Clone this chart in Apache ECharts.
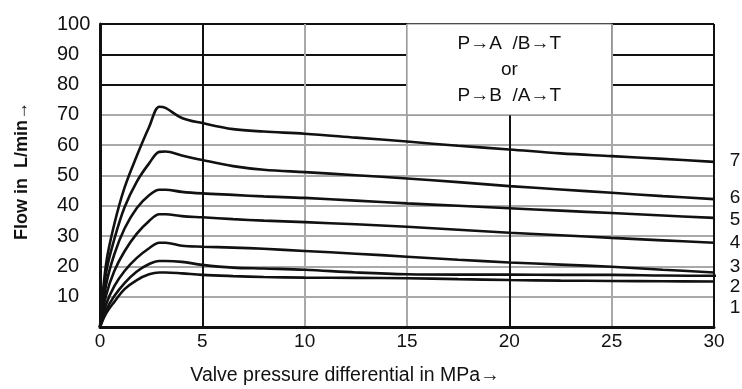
<!DOCTYPE html>
<html>
<head>
<meta charset="utf-8">
<script src="https://cdn.jsdelivr.net/npm/echarts@6/dist/echarts.min.js"></script>
<style>
  html, body { margin: 0; padding: 0; background: #fff; }
  #chart { width: 742px; height: 389px; }
</style>
</head>
<body>
<div id="chart"></div>
<script>
// Pressure differential (MPa) sampled along every curve
const pressure = [0, 0.3, 0.7, 1.2, 1.8, 2.4, 2.9, 3.2, 4, 5, 6.5, 8, 10, 12.5, 15, 17.5, 20, 22.5, 25, 27.5, 30];

// Flow (L/min) for spool sizes 1..7
const flow1 = [0, 4.5, 8.3, 12.5, 15.5, 17.4, 18, 18, 17.7, 17.2, 16.8, 16.5, 16.3, 16.2, 16.1, 15.8, 15.5, 15.3, 15.2, 15.1, 15];
const flow2 = [0, 5.5, 10.2, 14.5, 18.3, 20.8, 21.8, 21.8, 21.5, 20.5, 19.6, 19.3, 18.9, 18, 17.4, 17.3, 17.3, 17.2, 17.2, 17, 16.9];
const flow3 = [0, 7.5, 13.5, 18.5, 22.8, 26, 27.8, 27.8, 26.8, 26.5, 26.2, 25.8, 25.1, 24.2, 23.2, 22.2, 21.3, 20.6, 19.9, 18.9, 18];
const flow4 = [0, 10.5, 18.5, 25, 30.8, 35, 37.2, 37.2, 36.6, 36.2, 35.6, 35.1, 34.6, 33.9, 33.1, 32.1, 31.1, 30.3, 29.4, 28.6, 27.8];
const flow5 = [0, 14, 24, 32.5, 39.3, 43.5, 45.3, 45.3, 44.6, 44.1, 43.6, 43.1, 42.6, 41.7, 40.8, 40, 39.2, 38.4, 37.6, 36.8, 36];
const flow6 = [0, 18, 29, 39.5, 48, 54, 57.8, 57.9, 56.6, 55.1, 53.1, 51.9, 51.1, 50.1, 49, 47.8, 46.5, 45.4, 44.3, 43.2, 42.2];
const flow7 = [0, 21, 34, 46, 56.5, 66, 72.7, 72.3, 69, 67.3, 65.3, 64.5, 63.8, 62.5, 61.2, 59.8, 58.6, 57.3, 56.4, 55.5, 54.5];
// curve 2 runs a little past the right frame
const flow2Tail = [30.2, 16.9];

const curveNames = ['1', '2', '3', '4', '5', '6', '7'];
const xTicks = [0, 5, 10, 15, 20, 25, 30];
const yTicks = [0, 10, 20, 30, 40, 50, 60, 70, 80, 90, 100];

// Flow-path annotation box (pressure 15..25, flow 70..100)
const boxFrom = [15, 70];
const boxTo = [25, 100];
const boxText = 'P\u2192A  /B\u2192T\nor\nP\u2192B  /A\u2192T';

const FONT = "'Liberation Sans', Arial, sans-serif";
const INK = '#111';
const GRAY = '#a9a9a9';

const flows = [flow1, flow2, flow3, flow4, flow5, flow6, flow7];

const series = flows.map((f, i) => {
  const data = pressure.map((p, k) => [p, f[k]]);
  if (i === 1) data.push(flow2Tail);
  const s = {
    name: curveNames[i],
    type: 'line',
    data: data,
    smooth: 0.35,
    showSymbol: false,
    clip: i !== 1,
    lineStyle: { color: INK, width: 2.6 },
    z: 5
  };
  if (i === 0) {
    s.markArea = {
      silent: true,
      itemStyle: { color: '#fff', borderColor: '#888', borderWidth: 1 },
      label: {
        show: true,
        position: 'inside',
        formatter: boxText,
        color: INK,
        fontFamily: FONT,
        fontSize: 19,
        lineHeight: 26
      },
      data: [[{ coord: boxFrom }, { coord: boxTo }]]
    };
  }
  return s;
});

// one colour per vertical/horizontal split line, in tick order
const xLineColors = xTicks.map(v => (v === 0 || v === 5 || v === 20 || v === 30) ? INK : GRAY);
const yLineColors = yTicks.map(v => (v === 0 || v >= 80) ? INK : GRAY);

const labelFont = (size, weight) => (weight || 'normal') + ' ' + size + 'px ' + FONT;

const chart = echarts.init(document.getElementById('chart'));
chart.setOption({
  animation: false,
  backgroundColor: '#fff',
  grid: { left: 100, right: 28, top: 24, bottom: 62, containLabel: false },
  xAxis: {
    type: 'value',
    min: 0, max: 30, interval: 5,
    axisLine: { show: true, onZero: false, lineStyle: { color: INK, width: 3 } },
    axisTick: { show: false },
    axisLabel: { color: INK, fontFamily: FONT, fontSize: 19, margin: 5 },
    splitLine: { show: true, lineStyle: { color: xLineColors, width: 2 } }
  },
  yAxis: {
    type: 'value',
    min: 0, max: 100, interval: 10,
    axisLine: { show: true, onZero: false, lineStyle: { color: INK, width: 3 } },
    axisTick: { show: false },
    axisLabel: {
      color: INK, fontFamily: FONT, fontSize: 20, align: 'left', margin: 43,
      formatter: v => (v === 0 ? '' : String(v))
    },
    splitLine: { show: true, lineStyle: { color: yLineColors, width: 2 } }
  },
  graphic: [
    {
      type: 'text', x: 22, y: 171, rotation: Math.PI / 2,
      style: {
        text: 'Flow in  L/min\u2192', fill: INK, font: labelFont(18, 'bold'),
        textAlign: 'center', textVerticalAlign: 'middle'
      }
    },
    {
      type: 'text', x: 345, y: 376,
      style: {
        text: 'Valve pressure differential in MPa\u2192', fill: INK, font: labelFont(19.5),
        textAlign: 'center', textVerticalAlign: 'middle'
      }
    },
    { type: 'text', x: 735, y: 161, style: { text: '7', fill: INK, font: labelFont(19), textAlign: 'center', textVerticalAlign: 'middle' } },
    { type: 'text', x: 735, y: 198, style: { text: '6', fill: INK, font: labelFont(19), textAlign: 'center', textVerticalAlign: 'middle' } },
    { type: 'text', x: 735, y: 220, style: { text: '5', fill: INK, font: labelFont(19), textAlign: 'center', textVerticalAlign: 'middle' } },
    { type: 'text', x: 735, y: 243, style: { text: '4', fill: INK, font: labelFont(19), textAlign: 'center', textVerticalAlign: 'middle' } },
    { type: 'text', x: 735, y: 267, style: { text: '3', fill: INK, font: labelFont(19), textAlign: 'center', textVerticalAlign: 'middle' } },
    { type: 'text', x: 735, y: 287, style: { text: '2', fill: INK, font: labelFont(19), textAlign: 'center', textVerticalAlign: 'middle' } },
    { type: 'text', x: 735, y: 308, style: { text: '1', fill: INK, font: labelFont(19), textAlign: 'center', textVerticalAlign: 'middle' } }
  ],
  series: series
});
</script>
</body>
</html>
